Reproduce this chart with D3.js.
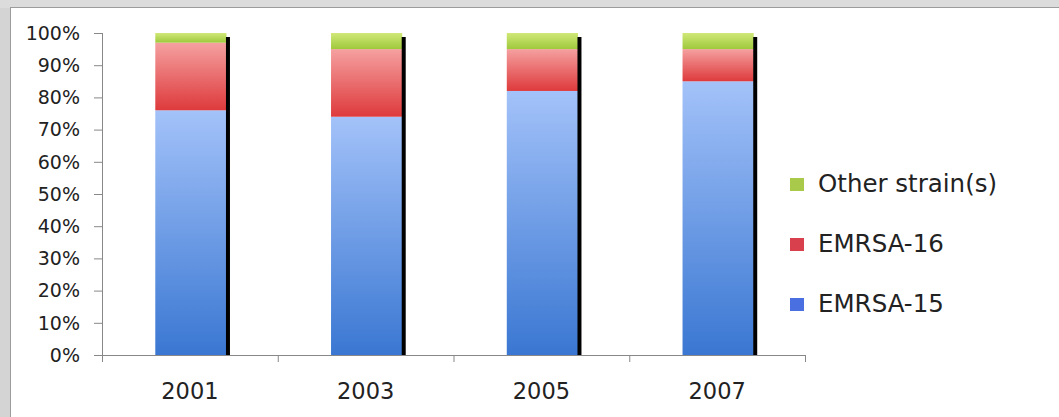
<!DOCTYPE html>
<html>
<head>
<meta charset="utf-8">
<script src="https://cdn.jsdelivr.net/npm/d3@7"></script>
<style>
  body { margin: 0; background: #d4d4d4; }
  svg { display: block; }
  text { font-family: "DejaVu Sans", sans-serif; fill: #222; }
</style>
</head>
<body>
<div class="chart"></div>
<script>
var years = ["2001", "2003", "2005", "2007"];
var emrsa15 = [76, 74, 82, 85];
var emrsa16 = [21, 21, 13, 10];
var other = [3, 5, 5, 5];
var seriesNames = ["EMRSA-15", "EMRSA-16", "Other strain(s)"];
var yTicks = [0, 10, 20, 30, 40, 50, 60, 70, 80, 90, 100];

var svgWidth = 1059, svgHeight = 417;
var plot = {left: 102, right: 805, top: 33, bottom: 355};

var svg = d3.select(".chart").append("svg")
    .attr("width", svgWidth)
    .attr("height", svgHeight);

// grey frame + white chart area
svg.append("rect").attr("width", svgWidth).attr("height", svgHeight).attr("fill", "#d4d4d4");
svg.append("rect").attr("x", 0).attr("y", 0).attr("width", svgWidth).attr("height", 8).attr("fill", "#dcdcdc");
svg.append("rect")
    .attr("x", 10.5).attr("y", 7.5)
    .attr("width", svgWidth).attr("height", svgHeight)
    .attr("fill", "#fff").attr("stroke", "#9c9c9c");

var table = years.map(function(y, i) {
    return {year: y, "EMRSA-15": emrsa15[i], "EMRSA-16": emrsa16[i], "Other strain(s)": other[i]};
});
var stacked = d3.stack().keys(seriesNames)(table);

var x = d3.scaleBand().domain(years).range([plot.left, plot.right]);
var y = d3.scaleLinear().domain([0, 100]).range([plot.bottom, plot.top]);
var barW = x.bandwidth() * 0.405;

// gradients
var defs = svg.append("defs");
var grads = {
    "EMRSA-15": ["#a3c2f9", "#3a77d2"],
    "EMRSA-16": ["#f5a0a0", "#de3a3c"],
    "Other strain(s)": ["#d0e878", "#9fc93c"]
};
seriesNames.forEach(function(k, i) {
    var g = defs.append("linearGradient").attr("id", "g" + i)
        .attr("x1", 0).attr("y1", 0).attr("x2", 0).attr("y2", 1);
    g.append("stop").attr("offset", "0%").attr("stop-color", grads[k][0]);
    g.append("stop").attr("offset", "100%").attr("stop-color", grads[k][1]);
});

var layers = svg.selectAll(".layer")
    .data(stacked)
    .enter().append("g")
    .attr("class", "layer")
    .attr("fill", function(d, i) { return "url(#g" + i + ")"; });

layers.selectAll("rect")
    .data(function(d) { return d; })
    .enter().append("rect")
    .attr("x", function(d) { return x(d.data.year) + x.bandwidth() / 2 - barW / 2 + 1; })
    .attr("width", barW)
    .attr("y", function(d) { return y(d[1]); })
    .attr("height", function(d) { return y(d[0]) - y(d[1]); });

// dark right edge of each bar
svg.selectAll(".edge")
    .data(years)
    .enter().append("rect")
    .attr("class", "edge")
    .attr("x", function(d) { return x(d) + x.bandwidth() / 2 + barW / 2 + 0.5; })
    .attr("y", y(100) + 4)
    .attr("width", 4)
    .attr("height", y(0) - y(100) - 4)
    .attr("fill", "#000");

// y axis
var yAxis = d3.axisLeft(y).tickValues(yTicks).tickSize(8)
    .tickFormat(function(d) { return d + "%"; });
var yg = svg.append("g").attr("transform", "translate(" + plot.left + ",0)").call(yAxis);
yg.select(".domain").attr("stroke", "#888").attr("d", "M0.5," + plot.top + "V" + (plot.bottom + 7));
yg.selectAll(".tick line").attr("stroke", "#888");
yg.selectAll(".tick text")
    .attr("x", -22).attr("dy", "0.33em")
    .style("font-size", "19px").attr("fill", "#222");

// x axis
var xAxis = d3.axisBottom(x).tickSize(0);
var xg = svg.append("g").attr("transform", "translate(0," + plot.bottom + ")").call(xAxis);
xg.select(".domain").attr("stroke", "#888").attr("d", "M" + plot.left + ",0.5H" + plot.right);
xg.selectAll(".tick text").attr("y", 44).attr("dy", 0).style("font-size", "22.5px").attr("fill", "#222");
xg.selectAll(".sep")
    .data(years)
    .enter().append("line")
    .attr("class", "sep")
    .attr("x1", function(d) { return x(d) + x.bandwidth() + 0.5; })
    .attr("x2", function(d) { return x(d) + x.bandwidth() + 0.5; })
    .attr("y1", 0).attr("y2", 7)
    .attr("stroke", "#888");

// legend
var legendColors = {"EMRSA-15": "#4a6fe0", "EMRSA-16": "#d8404e", "Other strain(s)": "#a9c94a"};
var legend = svg.selectAll(".legend")
    .data(seriesNames.slice().reverse())
    .enter().append("g")
    .attr("class", "legend")
    .attr("transform", function(d, i) { return "translate(790," + (192 + i * 60) + ")"; });
legend.append("rect")
    .attr("x", 0).attr("y", -14)
    .attr("width", 14).attr("height", 13)
    .attr("fill", function(d) { return legendColors[d]; });
legend.append("text")
    .attr("x", 28).attr("y", 0)
    .style("font-size", "24.5px")
    .text(function(d) { return d; });
</script>
</body>
</html>
